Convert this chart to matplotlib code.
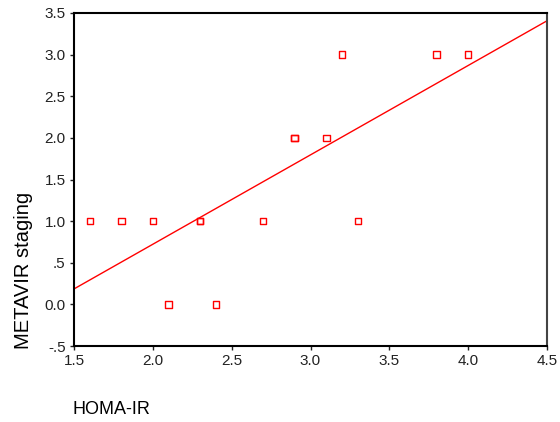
import numpy as np
from matplotlib import pyplot as plt

homa_ir = [1.6, 1.8, 2.0, 2.1, 2.3, 2.3, 2.4, 2.7, 2.9, 2.9, 3.1, 3.2, 3.3, 3.8, 4.0]
metavir = [1, 1, 1, 0, 1, 1, 0, 1, 2, 2, 2, 3, 1, 3, 3]

xticks = [1.5, 2.0, 2.5, 3.0, 3.5, 4.0, 4.5]
yticks = [-0.5, 0.0, 0.5, 1.0, 1.5, 2.0, 2.5, 3.0, 3.5]
ytick_labels = ["-.5", "0.0", ".5", "1.0", "1.5", "2.0", "2.5", "3.0", "3.5"]

plt.rcParams['font.family'] = ['Liberation Sans', 'DejaVu Sans']

fig = plt.figure(figsize=(5.6, 4.22), dpi=100)
ax = fig.add_axes([74 / 560, 1 - 346 / 422, 473 / 560, 333 / 422])

# fit line
slope, intercept = np.polyfit(homa_ir, metavir, 1)
lx = np.array([1.5, 4.5])
ax.plot(lx, slope * lx + intercept, color="red", lw=1.0)

ax.scatter(homa_ir, metavir, marker="s", s=22, facecolors="none",
           edgecolors="red", linewidths=1.0, zorder=3)

ax.set_xlim(1.5, 4.5)
ax.set_ylim(-0.5, 3.5)
ax.set_xticks(xticks)
ax.set_xticklabels(["{:.1f}".format(t) for t in xticks])
ax.set_yticks(yticks)
ax.set_yticklabels(ytick_labels)
ax.tick_params(direction="out", length=3, width=1, labelsize=11,
               colors="#222222", pad=3)

for s in ["left", "bottom", "top"]:
    ax.spines[s].set_linewidth(1.5)
    ax.spines[s].set_color("black")
ax.spines["right"].set_linewidth(1.5)
ax.spines["right"].set_color("#444444")

fig.text(24 / 560, 1 - 270 / 422, "METAVIR staging", rotation=90,
         ha="center", va="center", fontsize=14.5)
fig.text(73 / 560, 1 - 410 / 422, "HOMA-IR", ha="left", va="center",
         fontsize=13)

plt.savefig("out.png", dpi=100)
